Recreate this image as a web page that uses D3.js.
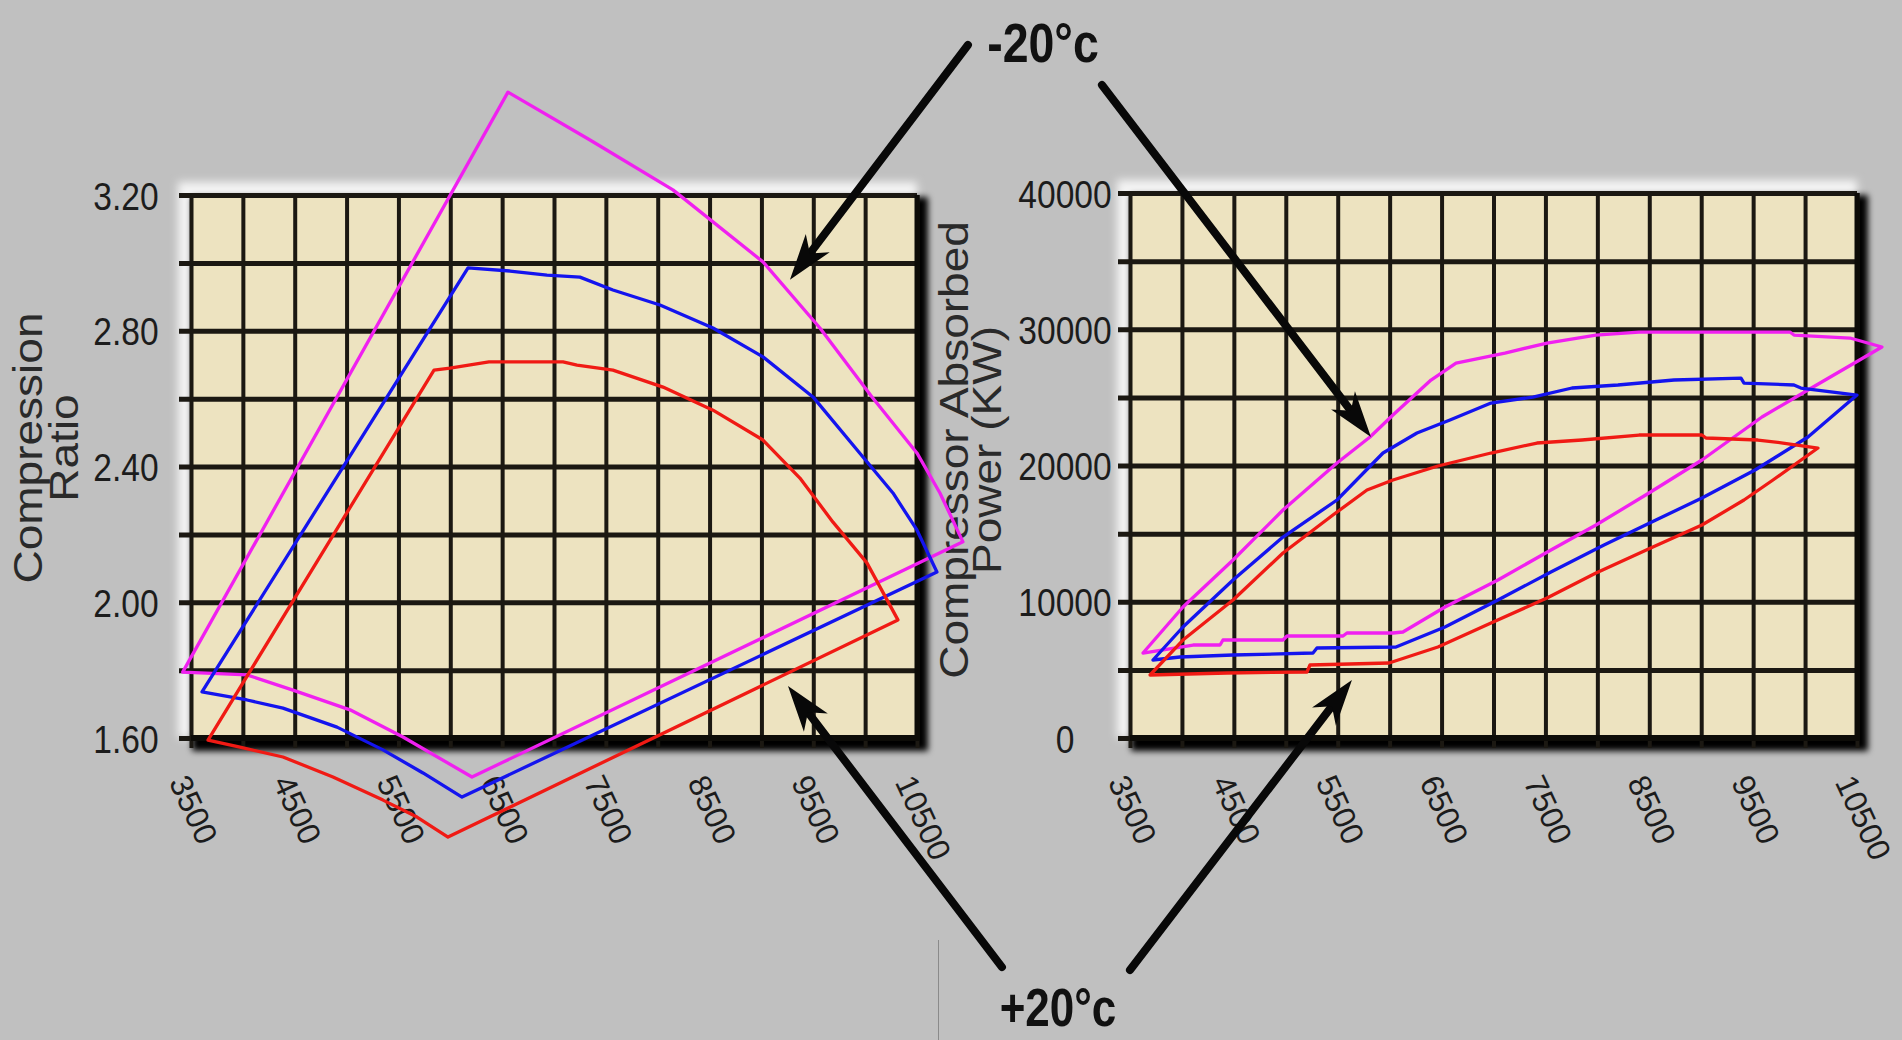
<!DOCTYPE html>
<html><head><meta charset="utf-8">
<script src="https://cdn.jsdelivr.net/npm/d3@7"></script>
<style>
html,body{margin:0;padding:0;background:#c0c0c0;overflow:hidden;}
svg{display:block;}
text{font-family:"Liberation Sans",Arial,sans-serif;}
</style></head><body>
<svg id="chart" width="1902" height="1040"></svg>
<script>
// ---------- data ----------
const speedTicks = [3500, 4500, 5500, 6500, 7500, 8500, 9500, 10500];
const ratioTicks = [1.6, 2.0, 2.4, 2.8, 3.2];
const powerTicks = [0, 10000, 20000, 30000, 40000];
const ratioTitle = ["Compression", "Ratio"];
const powerTitle = ["Compressor Absorbed", "Power (KW)"];
const tempLabels = ["-20°c", "+20°c"];

// compression ratio envelopes [speed, ratio]
const ratioMagenta = [[3420,1.794],[6556,3.503],[7347,3.362],[8147,3.215],[9015,3.003],[9564,2.808],[10066,2.605],[10499,2.440],[10721,2.322],[10943,2.178],[6209,1.485],[5544,1.603],[5033,1.683],[4483,1.741],[4040,1.786]];
const ratioBlue = [[3606,1.736],[6171,2.985],[6576,2.976],[6932,2.964],[7250,2.958],[7568,2.920],[8022,2.876],[8533,2.808],[9015,2.723],[9497,2.605],[9979,2.428],[10268,2.322],[10499,2.213],[10692,2.089],[6113,1.426],[5737,1.497],[5351,1.565],[4908,1.632],[4387,1.688],[4040,1.712]];
const ratioRed = [[3664,1.594],[5843,2.684],[5997,2.690],[6373,2.708],[7087,2.708],[7222,2.699],[7568,2.684],[8051,2.634],[8533,2.566],[9015,2.478],[9371,2.366],[9690,2.236],[10017,2.116],[10316,1.948],[5978,1.308],[5679,1.367],[5351,1.417],[4869,1.485],[4387,1.544],[3972,1.573]];

// absorbed power envelopes [speed, kW]
const powerMagenta = [[3625,6238],[4010,9614],[4492,13063],[4973,16733],[5493,20182],[5811,22090],[6032,23705],[6398,26274],[6639,27521],[7110,28255],[7515,28989],[7986,29576],[8401,29796],[9854,29796],[9893,29576],[10432,29356],[10740,28695],[10028,25540],[9585,23558],[9007,20402],[8497,17981],[7987,15632],[7553,13797],[7043,11596],[6533,9614],[6128,7779],[6032,7706],[5589,7706],[5551,7486],[5012,7486],[4973,7192],[4395,7192],[4367,6825],[4107,6825]];
const powerBlue = [[3721,5724],[4010,8146],[4492,11596],[4973,14751],[5493,17467],[5936,20916],[6263,22384],[6581,23338],[6976,24586],[7380,25026],[7756,25687],[8198,25907],[8738,26274],[9383,26420],[9412,26053],[9893,25907],[9960,25687],[10500,25173],[10028,22090],[9518,19669],[9007,17614],[8564,15999],[8064,14164],[7553,12183],[7043,10128],[6533,8146],[6061,6678],[5300,6605],[5262,6238],[4492,6091],[3981,5945]];
const powerRed = [[3693,4624],[4010,7192],[4492,10128],[4973,13577],[5454,16366],[5782,18201],[6032,18935],[6465,19962],[6976,20916],[7419,21650],[7852,21870],[8401,22237],[9007,22237],[9046,22017],[9546,21870],[9787,21650],[10124,21283],[9691,18935],[9412,17467],[9007,15632],[8535,14017],[7987,12109],[7515,10275],[6976,8440],[6465,6678],[5994,5504],[5233,5357],[5204,4844],[4434,4770]];

// annotation arrows, in the data units of the chart they point into
const coldArrowRatio = [[10991,3.642],[9275,2.950]];
const coldArrowPower = [[3230,47924],[5820,22090]];
const hotArrowRatio = [[11319,0.925],[9256,1.753]];
const hotArrowPower = [[3500,-17026],[5637,4257]];

// ---------- layout ----------
const svg = d3.select("#chart");
const defs = svg.append("defs");
defs.append("filter").attr("id","blurS").attr("x","-20%").attr("y","-20%").attr("width","140%").attr("height","140%")
  .append("feGaussianBlur").attr("stdDeviation",3);
defs.append("filter").attr("id","blurH").attr("x","-20%").attr("y","-20%").attr("width","140%").attr("height","140%")
  .append("feGaussianBlur").attr("stdDeviation",4);

svg.append("rect").attr("width",1902).attr("height",1040).attr("fill","#c0c0c0");

const xRatio = d3.scaleLinear().domain([3500,10500]).range([191,917]);
const yRatio = d3.scaleLinear().domain([1.6,3.2]).range([738,195]);
const xPower = d3.scaleLinear().domain([3500,10500]).range([1130,1857]);
const yPower = d3.scaleLinear().domain([0,40000]).range([738,193]);

function squeeze(sel, k){
  sel.each(function(){
    const L = this.getComputedTextLength();
    d3.select(this).attr("textLength", L*k).attr("lengthAdjust","spacingAndGlyphs");
  });
}

function drawPanel(x, y, gridY, yTicks, yFmt){
  const [x0,x1] = x.range(), [y1,y0] = y.range();
  const w = x1-x0, h = y1-y0;
  const g = svg.append("g");
  // highlight (top / left bevel)
  g.append("rect").attr("x",x0-13).attr("y",y0-13).attr("width",w+13).attr("height",h+13)
    .attr("fill","#f4f4f4").attr("filter","url(#blurH)");
  // drop shadow (right / bottom)
  g.append("rect").attr("x",x0+1).attr("y",y0+2).attr("width",w+10).attr("height",h+11)
    .attr("fill","#050505").attr("filter","url(#blurS)");
  // plot background
  g.append("rect").attr("x",x0).attr("y",y0).attr("width",w).attr("height",h).attr("fill","#ede3c0");

  // vertical grid
  const gridX = d3.range(3500, 10501, 500);
  const gx = g.append("g").attr("transform",`translate(0,${y0})`)
    .call(d3.axisBottom(x).tickValues(gridX).tickSize(h+10).tickFormat(""));
  gx.select(".domain").remove();
  gx.selectAll("line").attr("stroke","#1b1812").attr("stroke-width",4);

  // horizontal grid
  const gy = g.append("g").attr("transform",`translate(${x1},0)`)
    .call(d3.axisLeft(y).tickValues(gridY).tickSize(w+12).tickFormat(""));
  gy.select(".domain").remove();
  gy.selectAll("line").attr("stroke","#1b1812").attr("stroke-width",5);

  // right / bottom frame
  g.append("line").attr("x1",x1).attr("x2",x1).attr("y1",y0).attr("y2",y1+2).attr("stroke","#0d0c08").attr("stroke-width",5);
  g.append("line").attr("x1",x0).attr("x2",x1+2).attr("y1",y1).attr("y2",y1).attr("stroke","#0d0c08").attr("stroke-width",6);

  // y labels
  const ly = g.append("g").attr("transform",`translate(${x0},0)`)
    .call(d3.axisLeft(y).tickValues(yTicks).tickSize(0).tickFormat(yFmt));
  ly.select(".domain").remove();
  ly.selectAll("text").attr("x",-65).attr("dy","0.36em").attr("text-anchor","middle")
    .attr("font-size",39).attr("fill","#1c1c1c")
    .style("font-family",'"Liberation Sans",Arial,sans-serif');
  squeeze(ly.selectAll("text"), 0.86);

  // x labels (rotated)
  const lx = g.append("g").attr("transform",`translate(0,${y1})`)
    .call(d3.axisBottom(x).tickValues(speedTicks).tickSize(0).tickFormat(d3.format("d")));
  lx.select(".domain").remove();
  lx.selectAll("text").attr("x",0).attr("y",0).attr("dy",0).attr("text-anchor","start")
    .attr("transform","translate(-23,44) rotate(65)")
    .attr("font-size",32).attr("fill","#1c1c1c")
    .style("font-family",'"Liberation Sans",Arial,sans-serif');
}

drawPanel(xRatio, yRatio, d3.range(9).map(i => 1.6 + i*0.2), ratioTicks, d3.format(".2f"));
drawPanel(xPower, yPower, d3.range(9).map(i => i*5000), powerTicks, d3.format("d"));

// axis titles
function title(lines, cy, baselines){
  lines.forEach((t,i) => {
    const el = svg.append("text").attr("transform",`translate(${baselines[i]},${cy}) rotate(-90)`)
      .attr("text-anchor","middle").attr("font-size",40).attr("fill","#2a2a2a").text(t);
    const L = el.node().getComputedTextLength();
    el.attr("textLength", L*1.15).attr("lengthAdjust","spacingAndGlyphs");
  });
}
title(ratioTitle, 448, [42, 78]);
title(powerTitle, 450, [968, 1001]);

// envelopes
function envelope(data, x, y, color){
  const line = d3.line().x(d => x(d[0])).y(d => y(d[1])).curve(d3.curveLinearClosed);
  svg.append("path").attr("d", line(data)).attr("fill","none").attr("stroke",color)
    .attr("stroke-width",3.3).attr("stroke-linejoin","round");
}
envelope(ratioMagenta, xRatio, yRatio, "#f020f0");
envelope(ratioBlue, xRatio, yRatio, "#1414ee");
envelope(ratioRed, xRatio, yRatio, "#f01a14");
envelope(powerMagenta, xPower, yPower, "#f020f0");
envelope(powerBlue, xPower, yPower, "#1414ee");
envelope(powerRed, xPower, yPower, "#f01a14");

// arrows
function arrow(pts, x, y){
  const [sx,sy] = [x(pts[0][0]), y(pts[0][1])];
  const [tx,ty] = [x(pts[1][0]), y(pts[1][1])];
  const dx = tx-sx, dy = ty-sy, L = Math.hypot(dx,dy);
  const ux = dx/L, uy = dy/L, nx = -uy, ny = ux;
  const bl = 46, hw = 15, notch = 33;
  svg.append("line").attr("x1",sx).attr("y1",sy).attr("x2",tx-ux*(notch+2)).attr("y2",ty-uy*(notch+2))
    .attr("stroke","#080808").attr("stroke-width",8).attr("stroke-linecap","round");
  const head = [[tx,ty],[tx-ux*bl+nx*hw, ty-uy*bl+ny*hw],[tx-ux*notch, ty-uy*notch],[tx-ux*bl-nx*hw, ty-uy*bl-ny*hw]];
  svg.append("polygon").attr("points", head.map(p=>p.join(",")).join(" ")).attr("fill","#080808");
}
arrow(coldArrowRatio, xRatio, yRatio);
arrow(coldArrowPower, xPower, yPower);
arrow(hotArrowRatio, xRatio, yRatio);
arrow(hotArrowPower, xPower, yPower);

// temperature labels
[[tempLabels[0],1043,62,56],[tempLabels[1],1058,1026,53]].forEach(([t,cx,by,fs]) => {
  const el = svg.append("text").attr("x",cx).attr("y",by).attr("text-anchor","middle")
    .attr("font-size",fs).attr("font-weight","bold").attr("fill","#111").text(t);
  squeeze(el, 0.83);
});

// thin separator line at bottom
svg.append("line").attr("x1",938.5).attr("x2",938.5).attr("y1",940).attr("y2",1040)
  .attr("stroke","#8a8a8a").attr("stroke-width",1);
</script>
</body></html>
